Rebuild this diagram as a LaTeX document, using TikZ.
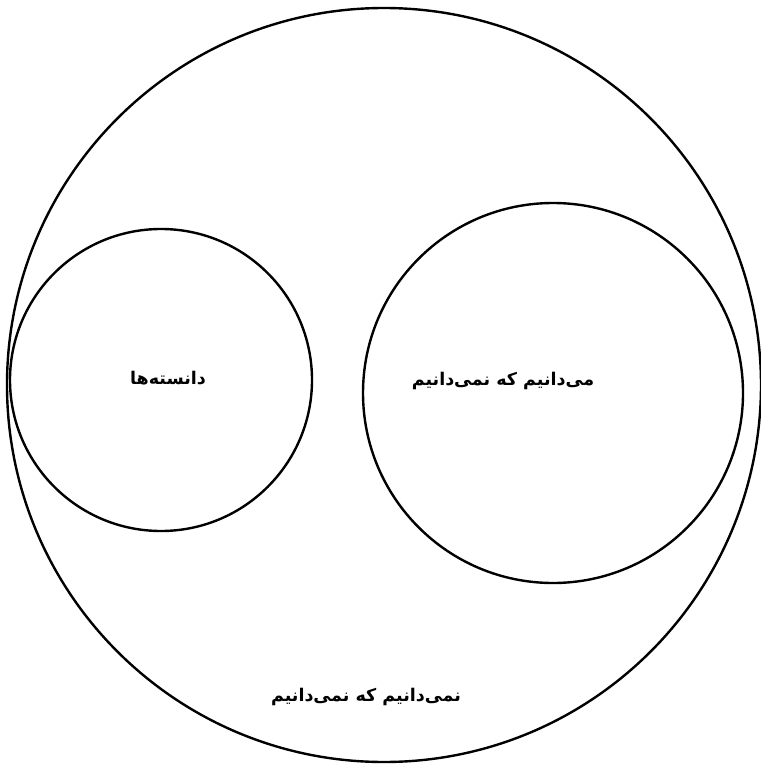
\documentclass[tikz,border=0pt]{standalone}
\usepackage{fontspec}
\newfontfamily\arabicfont[Script=Arabic]{DejaVu Sans}
\TeXXeTstate=1
\begin{document}
\begin{tikzpicture}[x=1pt,y=-1pt,
  ring/.style={line width=2.4pt},
  lbl/.style={font=\arabicfont\bfseries\fontsize{17.5}{21}\selectfont,inner sep=0pt}]
\useasboundingbox[fill=white] (0,0) rectangle (760,765);
\coordinate (big) at (384,385);
\coordinate (known) at (161,380);
\coordinate (kunk) at (553,393);
\draw[ring] (big) circle[radius=377];
\draw[ring] (known) circle[radius=151];
\draw[ring] (kunk) circle[radius=190];
\node[lbl] (t1) at (168,378) {\beginR دانسته‌ها\endR};
\node[lbl] (t2) at (503,381) {\beginR می‌دانیم که نمی‌دانیم\endR};
\node[lbl] (t3) at (366,697) {\beginR نمی‌دانیم که نمی‌دانیم\endR};
\end{tikzpicture}
\end{document}
